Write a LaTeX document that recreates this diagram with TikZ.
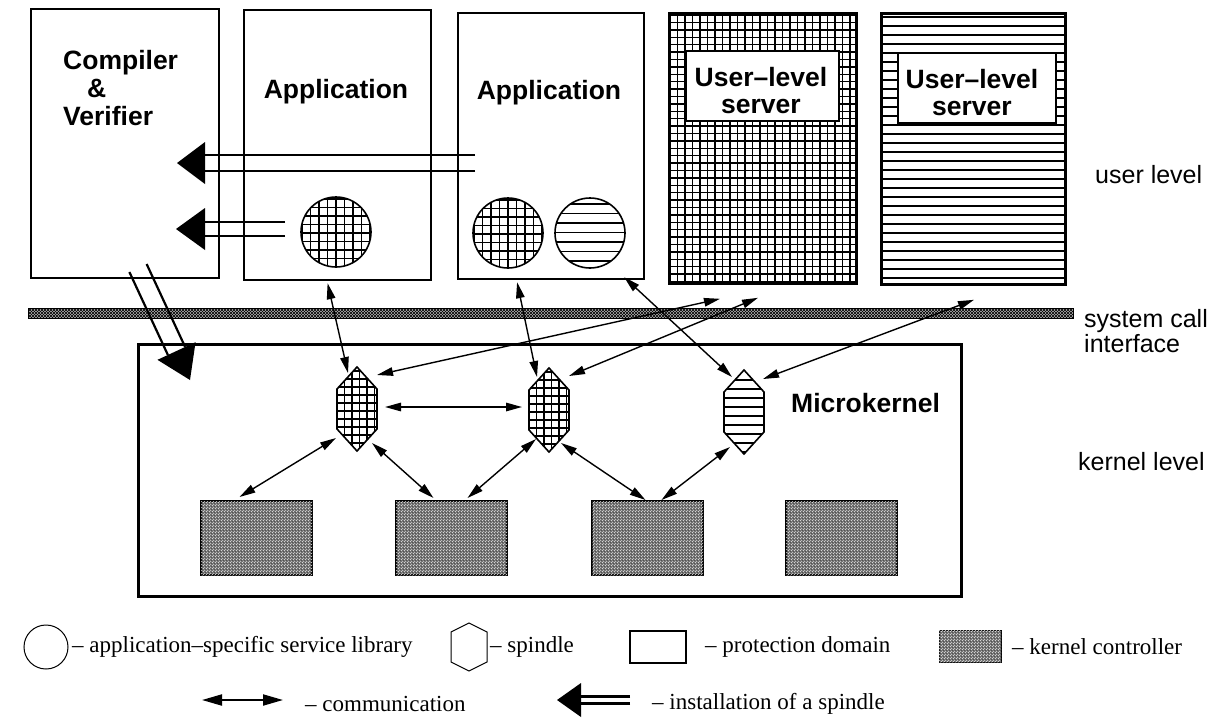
\documentclass[tikz,border=0pt]{standalone}
\usepackage{fontspec}
\setmainfont{Liberation Serif}
\newfontfamily\hvf{Liberation Sans}
\usetikzlibrary{arrows.meta,patterns,calc}
\newcommand\myvl[5]{\foreach \i in {0,...,#5}{\draw[gridln] ({#1+\i*#3},#2) -- ({#1+\i*#3},#4);}}
\newcommand\myhl[5]{\foreach \i in {0,...,#5}{\draw[gridln] (#1,{#2+\i*#3}) -- (#4,{#2+\i*#3});}}
\newcommand\instarrow[5]{%
  \coordinate (#1-b) at ($(#2)!#3pt!(#1)$);
  \draw[instln] ($(#1)!#5pt!90:(#2)$) -- ($(#1-b)!#5pt!90:(#2)$);
  \draw[instln] ($(#1)!#5pt!-90:(#2)$) -- ($(#1-b)!#5pt!-90:(#2)$);
  \fill (#2) -- ($(#1-b)!#4pt!90:(#2)$) -- ($(#1-b)!#4pt!-90:(#2)$) -- cycle;}
\tikzset{
  box/.style={draw, line width=2.2pt, inner sep=0pt},
  srvbox/.style={draw, line width=2.8pt, inner sep=0pt},
  inbox/.style={draw, fill=white, line width=2.4pt, inner sep=0pt},
  gridln/.style={line width=1.4pt},
  instln/.style={line width=2.2pt},
  comm/.style={line width=1.4pt, {Triangle[length=16pt,width=8.5pt]}-{Triangle[length=16pt,width=8.5pt]}},
  commbig/.style={line width=2pt, {Triangle[length=20pt,width=11pt]}-{Triangle[length=20pt,width=11pt]}},
  lbl/.style={font=\hvf\bfseries\fontsize{26.5}{28}\selectfont, inner sep=0pt},
  side/.style={font=\hvf\fontsize{25}{27}\selectfont, inner sep=0pt, anchor=base west},
  leg/.style={font=\fontsize{23}{25}\selectfont, inner sep=0pt, anchor=west},
  ctrl/.style={draw, line width=2pt, fill=black!58, inner sep=0pt,
    postaction={pattern=north east lines, pattern color=white},
    postaction={pattern=crosshatch dots, pattern color=black!80}},
  lib/.style={circle, draw, line width=1.6pt, minimum size=70pt, inner sep=0pt},
  spinshape/.style={insert path={($(#1)+(0,-42)$) -- ($(#1)+(20,-20)$) -- ($(#1)+(20,20)$) -- ($(#1)+(0,42)$) -- ($(#1)+(-20,20)$) -- ($(#1)+(-20,-20)$) -- cycle}},
}
\begin{document}
\begin{tikzpicture}[x=1pt,y=-1pt]
\useasboundingbox[fill=white] (0,0) rectangle (1227,721);

% ---------- user level boxes
\node[box, minimum width=188pt, minimum height=269pt, anchor=north west] (comp) at (30,8) {};
\node[box, minimum width=187pt, minimum height=270pt, anchor=north west] (app1) at (243,9) {};
\node[box, minimum width=186pt, minimum height=266pt, anchor=north west] (app2) at (457,12) {};

\begin{scope}
  \clip (668,12) rectangle (855,282);
  \myvl{670}{12}{7.5}{282}{25}
  \myhl{668}{15}{7.4}{855}{37}
\end{scope}
\node[srvbox, minimum width=187pt, minimum height=270pt, anchor=north west] (srv1) at (668,12) {};
\node[inbox, minimum width=153pt, minimum height=70pt, anchor=north west] (in1) at (685,50) {};

\begin{scope}
  \clip (880,12) rectangle (1064,283);
  \myhl{880}{17}{9}{1064}{30}
\end{scope}
\node[srvbox, minimum width=184pt, minimum height=271pt, anchor=north west] (srv2) at (880,12) {};
\node[inbox, minimum width=158pt, minimum height=70pt, anchor=north west] (in2) at (897,52) {};

% libraries
\begin{scope}
  \clip (336,232) circle (35);
  \myvl{302}{196}{8.5}{268}{9}
  \myhl{300}{199}{8.5}{372}{9}
\end{scope}
\node[lib] (lib1) at (336,232) {};
\begin{scope}
  \clip (508,233) circle (35);
  \myvl{474}{197}{8.5}{269}{9}
  \myhl{472}{200}{8.5}{544}{9}
\end{scope}
\node[lib] (lib2) at (508,233) {};
\begin{scope}
  \clip (590,233) circle (35);
  \myhl{554}{204}{9.5}{626}{7}
\end{scope}
\node[lib] (lib3) at (590,233) {};

% labels
\node[lbl, anchor=base west] (tcomp1) at (63,69) {Compiler};
\node[lbl, anchor=base west] (tcomp2) at (87,97) {\&};
\node[lbl, anchor=base west] (tcomp3) at (63,125) {Verifier};
\node[lbl, anchor=base] (tapp1) at (336,98) {Application};
\node[lbl, anchor=base] (tapp2) at (549,99) {Application};
\node[lbl, anchor=base] (ts1a) at (761,86) {User–level};
\node[lbl, anchor=base] (ts1b) at (761,113) {server};
\node[lbl, anchor=base] (ts2a) at (972,88) {User–level};
\node[lbl, anchor=base] (ts2b) at (972,115) {server};

% ---------- system call interface bar
\node[draw, line width=1.2pt, fill=black!30, minimum width=1045pt, minimum height=10pt, inner sep=0pt,
  anchor=west, postaction={pattern=north east lines, pattern color=black},
  postaction={pattern=north west lines, pattern color=black}] (sci) at (28,313.5) {};

% ---------- microkernel
\node[draw, line width=2.6pt, minimum width=823pt, minimum height=252pt, inner sep=0pt, anchor=north west] (mk) at (137,343) {};
\node[lbl, anchor=base west] (tmk) at (791,412) {Microkernel};

% spindles
\coordinate (sp1) at (357,409);
\coordinate (sp2) at (549,410);
\coordinate (sp3) at (744,412);
\begin{scope}
  \clip[spinshape=sp1];
  \myvl{337}{366}{7.5}{452}{6}
  \myhl{336}{371}{8}{378}{11}
\end{scope}
\draw[line width=1.6pt, spinshape=sp1];
\begin{scope}
  \clip[spinshape=sp2];
  \myvl{529}{367}{7.5}{453}{6}
  \myhl{528}{372}{8}{570}{11}
\end{scope}
\draw[line width=1.6pt, spinshape=sp2];
\begin{scope}
  \clip[spinshape=sp3];
  \myhl{723}{380}{9}{765}{9}
\end{scope}
\draw[line width=1.6pt, spinshape=sp3];

% kernel controllers
\node[ctrl, minimum width=111pt, minimum height=74pt, anchor=north west] (c1) at (200,500) {};
\node[ctrl, minimum width=111pt, minimum height=74pt, anchor=north west] (c2) at (395,500) {};
\node[ctrl, minimum width=111pt, minimum height=74pt, anchor=north west] (c3) at (591,500) {};
\node[ctrl, minimum width=111pt, minimum height=74pt, anchor=north west] (c4) at (785,500) {};

% ---------- side labels
\node[side] (tul) at (1095,183) {user level};
\node[side] (tsc1) at (1084,327) {system call};
\node[side] (tsc2) at (1084,352) {interface};
\node[side] (tkl) at (1078,470) {kernel level};

% ---------- installation arrows
\coordinate (i1s) at (475,163); \coordinate (i1t) at (177,163);
\instarrow{i1s}{i1t}{28}{21}{8}
\coordinate (i2s) at (285,229); \coordinate (i2t) at (176,229);
\instarrow{i2s}{i2t}{29}{21}{7}
\coordinate (i3s) at (138,268); \coordinate (i3t) at (190,380);
\instarrow{i3s}{i3t}{32}{21}{9.5}

% ---------- communication arrows
\draw[comm] ($(app1.south)+(-10,2)$) -- ($(sp1)+(-9,-36)$);
\draw[comm] ($(app2.south)+(-34,2)$) -- ($(sp2)+(-12,-33)$);
\draw[comm] ($(app2.south east)+(-21,-3)$) -- ($(sp3)+(-12,-35)$);
\draw[comm] ($(sp1)+(20,-34)$) -- ($(srv1.south west)+(52,14)$);
\draw[comm] ($(sp2)+(20,-34)$) -- ($(srv1.south west)+(90,13)$);
\draw[comm] ($(sp3)+(19,-33)$) -- ($(srv2.south west)+(94,14)$);
\draw[comm] ($(sp1)+(28,-2)$) -- ($(sp2)+(-27,-3)$);
\draw[comm] ($(sp1)+(-21,29)$) -- ($(c1.north)+(-17,-3)$);
\draw[comm] ($(sp1)+(15,34)$) -- ($(c2.north)+(-18,-2)$);
\draw[comm] ($(sp2)+(-13,29)$) -- ($(c2.north)+(16,-2)$);
\draw[comm] ($(sp2)+(12,33)$) -- ($(c3.north)+(-2,0)$);
\draw[comm] ($(sp3)+(-14,35)$) -- ($(c3.north)+(14,0)$);

% ---------- legend
\node[circle, draw, line width=1pt, minimum size=44pt, inner sep=0pt] (lgc) at (46,647) {};
\node[leg] (lgct) at (72,647) {– application–specific service library};
\coordinate (lgh) at (469,647);
\draw[line width=1pt] ($(lgh)+(0,-24)$) -- ($(lgh)+(18,-15)$) -- ($(lgh)+(18,15)$) -- ($(lgh)+(0,24)$) -- ($(lgh)+(-18,15)$) -- ($(lgh)+(-18,-15)$) -- cycle;
\node[leg] (lght) at (490,647) {– spindle};
\node[draw, line width=2.5pt, minimum width=56pt, minimum height=32pt, inner sep=0pt] (lgr) at (658,647) {};
\node[leg] (lgrt) at (705,647) {– protection domain};
\node[ctrl, line width=1pt, minimum width=62pt, minimum height=32pt] (lgk) at (970,646) {};
\node[leg] (lgkt) at (1012,647) {– kernel controller};

\coordinate (lga1) at (202,700); \coordinate (lga2) at (283,700);
\draw[commbig] (lga1) -- (lga2);
\node[leg] (lgat) at (305,704) {– communication};
\coordinate (lgis) at (630,700); \coordinate (lgit) at (557,700);
\begin{scope}[instln/.style={line width=3pt}]
\instarrow{lgis}{lgit}{24}{17}{3.5}
\end{scope}
\node[leg] (lgit2) at (652,704) {– installation of a spindle};
\end{tikzpicture}
\end{document}
